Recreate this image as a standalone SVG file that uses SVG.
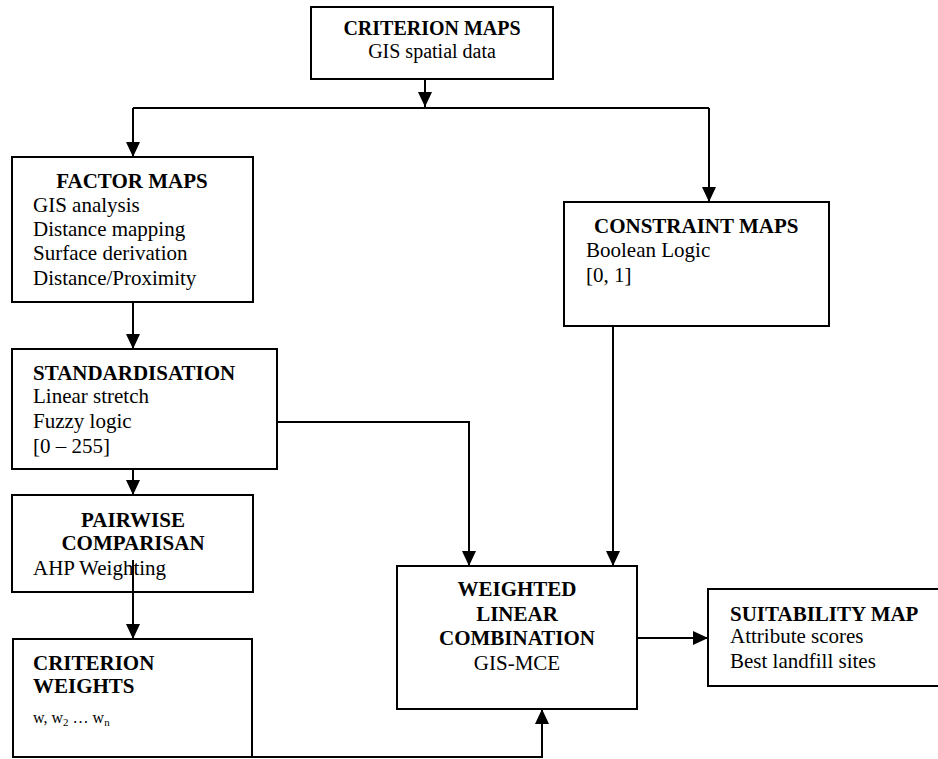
<svg xmlns="http://www.w3.org/2000/svg" width="938" height="759" viewBox="0 0 938 759">
<defs>
<style>
.box{fill:#fff;stroke:#000;stroke-width:2}
.ln{fill:none;stroke:#000;stroke-width:2}
text{font-family:"Liberation Serif","Times New Roman",serif;font-size:21px;fill:#000}
.b{font-weight:bold}
.c{text-anchor:middle}
.t{font-size:20px}
.s{font-size:16px}
.sub{font-size:11px}
</style>
<marker id="ah" markerUnits="userSpaceOnUse" markerWidth="14" markerHeight="14" refX="15" refY="7" orient="auto">
<path d="M0,0 L15,7 L0,14 z" fill="#000"/>
</marker>
</defs>
<rect width="938" height="759" fill="#fff"/>
<g id="connectors">
<path class="ln" d="M425,79 V107" marker-end="url(#ah)"/>
<path class="ln" d="M133,108 H709"/>
<path class="ln" d="M133,108 V157" marker-end="url(#ah)"/>
<path class="ln" d="M709,108 V202" marker-end="url(#ah)"/>
<path class="ln" d="M133,302 V349" marker-end="url(#ah)"/>
<path class="ln" d="M133,469 V495" marker-end="url(#ah)"/>
<path class="ln" d="M277,422 H469 V566" marker-end="url(#ah)"/>
<path class="ln" d="M613,326 V566" marker-end="url(#ah)"/>
<path class="ln" d="M637,638 H708" marker-end="url(#ah)"/>
<path class="ln" d="M252,757 H542 V709" marker-end="url(#ah)"/>
<path class="ln" d="M133,560 V639" marker-end="url(#ah)"/>
</g>
<g id="criterion-maps">
<rect class="box" x="311" y="7" width="242" height="72"/>
<text class="b c t" x="432" y="35">CRITERION MAPS</text>
<text class="c t" x="432" y="58">GIS spatial data</text>
</g>
<g id="factor-maps">
<rect class="box" x="12" y="157" width="241" height="145"/>
<text class="b c" x="132" y="188">FACTOR MAPS</text>
<text x="33" y="212">GIS analysis</text>
<text x="33" y="236">Distance mapping</text>
<text x="33" y="260">Surface derivation</text>
<text x="33" y="285">Distance/Proximity</text>
</g>
<g id="constraint-maps">
<rect class="box" x="564" y="202" width="265" height="124"/>
<text class="b" x="594" y="233">CONSTRAINT MAPS</text>
<text x="586" y="257">Boolean Logic</text>
<text x="586" y="282">[0, 1]</text>
</g>
<g id="standardisation">
<rect class="box" x="12" y="349" width="265" height="120"/>
<text class="b" x="33" y="380">STANDARDISATION</text>
<text x="33" y="403">Linear stretch</text>
<text x="33" y="428">Fuzzy logic</text>
<text x="33" y="453">[0 – 255]</text>
</g>
<g id="pairwise-comparisan">
<rect class="box" x="12" y="495" width="241" height="97" fill-opacity="0"/>
<text class="b c" x="133" y="527">PAIRWISE</text>
<text class="b c" x="133" y="550">COMPARISAN</text>
<text x="33" y="575">AHP Weighting</text>
</g>
<g id="criterion-weights">
<rect class="box" x="13" y="639" width="239" height="118"/>
<text class="b" x="33" y="670">CRITERION</text>
<text class="b" x="33" y="693">WEIGHTS</text>
<text class="s" x="33" y="723">w, w<tspan class="sub" dy="3">2</tspan><tspan dy="-3"> … w</tspan><tspan class="sub" dy="3">n</tspan></text>
</g>
<g id="weighted-linear-combination">
<rect class="box" x="397" y="566" width="240" height="143"/>
<text class="b c" x="517" y="596">WEIGHTED</text>
<text class="b c" x="517" y="621">LINEAR</text>
<text class="b c" x="517" y="645">COMBINATION</text>
<text class="c" x="517" y="670">GIS-MCE</text>
</g>
<g id="suitability-map">
<rect class="box" x="708" y="589" width="240" height="97"/>
<text class="b" x="730" y="621">SUITABILITY MAP</text>
<text x="730" y="643">Attribute scores</text>
<text x="730" y="668">Best landfill sites</text>
</g>
</svg>
